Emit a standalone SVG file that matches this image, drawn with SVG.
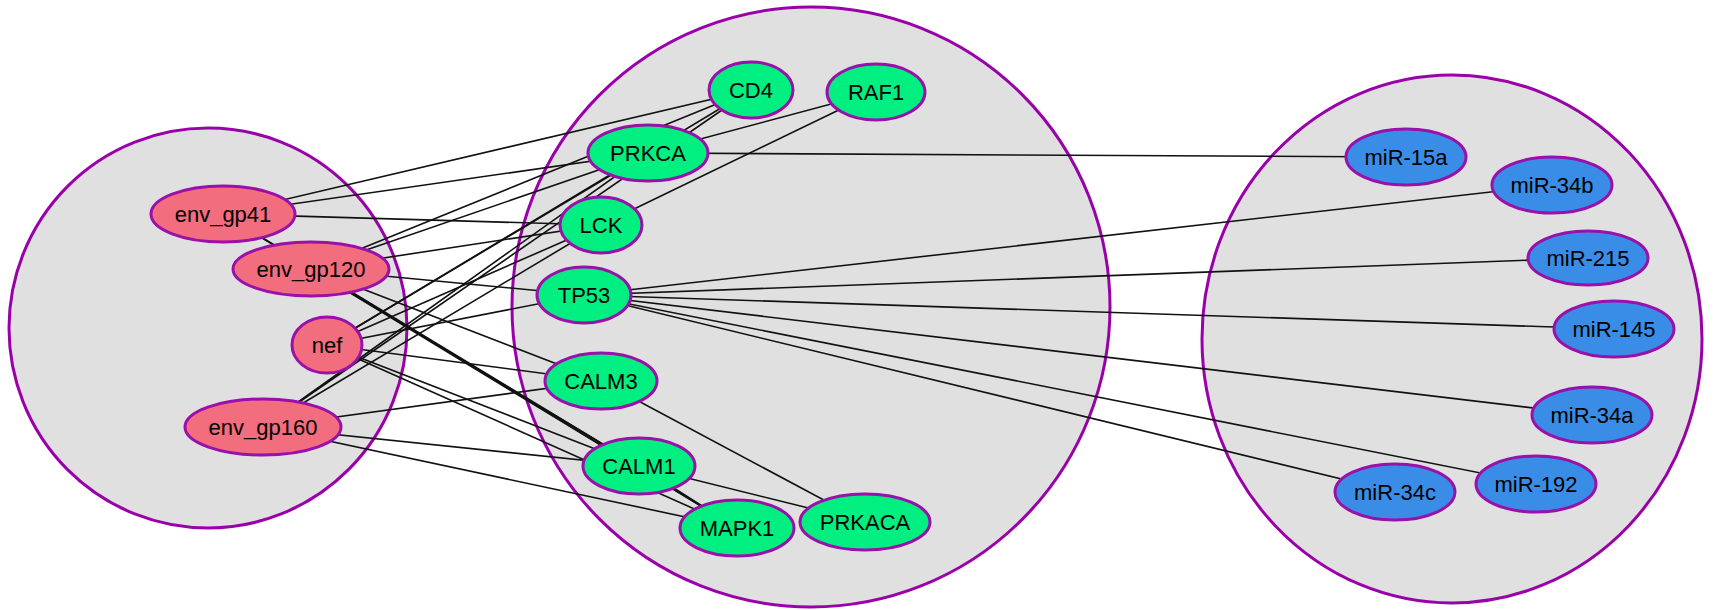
<svg xmlns="http://www.w3.org/2000/svg" width="1732" height="610" viewBox="0 0 1732 610">
  <style>
    .group { fill: #e0e0e0; stroke: #9a00aa; stroke-width: 3; }
    .node { stroke: #9a10aa; stroke-width: 3; }
    .viral { fill: #f26d7e; }
    .host { fill: #00ef80; }
    .mirna { fill: #3a8de6; }
    .label { font-family: "Liberation Sans", Arial, sans-serif; font-size: 22px; fill: #000; text-anchor: middle; }
    #edges line { stroke: #111; stroke-width: 1.6; }
  </style>

  <!-- compartments -->
  <g id="groups">
    <ellipse class="group" cx="208" cy="328" rx="199" ry="200"/>
    <ellipse class="group" cx="811" cy="307" rx="299" ry="300"/>
    <ellipse class="group" cx="1452" cy="339" rx="250" ry="264"/>
  </g>

  <!-- interactions -->
  <g id="edges">
    <!-- env_gp41 -->
    <line x1="223" y1="214" x2="751" y2="90"/>
    <line x1="223" y1="214" x2="648" y2="153"/>
    <line x1="223" y1="214" x2="601" y2="225"/>
    <line x1="223" y1="214" x2="639" y2="466"/>
    <line x1="223" y1="214" x2="737" y2="528"/>
    <!-- env_gp120 -->
    <line x1="311" y1="269" x2="751" y2="90"/>
    <line x1="311" y1="269" x2="648" y2="153"/>
    <line x1="311" y1="269" x2="601" y2="225"/>
    <line x1="311" y1="269" x2="584" y2="295"/>
    <line x1="311" y1="269" x2="601" y2="381"/>
    <line x1="311" y1="269" x2="639" y2="466"/>
    <line x1="311" y1="269" x2="737" y2="528"/>
    <!-- nef -->
    <line x1="327" y1="345" x2="751" y2="90"/>
    <line x1="327" y1="345" x2="648" y2="153"/>
    <line x1="327" y1="345" x2="601" y2="225"/>
    <line x1="327" y1="345" x2="584" y2="295"/>
    <line x1="327" y1="345" x2="601" y2="381"/>
    <line x1="327" y1="345" x2="639" y2="466"/>
    <line x1="327" y1="345" x2="737" y2="528"/>
    <!-- env_gp160 -->
    <line x1="263" y1="427" x2="751" y2="90"/>
    <line x1="263" y1="427" x2="648" y2="153"/>
    <line x1="263" y1="427" x2="601" y2="225"/>
    <line x1="263" y1="427" x2="601" y2="381"/>
    <line x1="263" y1="427" x2="639" y2="466"/>
    <line x1="263" y1="427" x2="737" y2="528"/>
    <!-- host-host -->
    <line x1="876" y1="92" x2="648" y2="153"/>
    <line x1="876" y1="92" x2="601" y2="225"/>
    <line x1="601" y1="381" x2="865" y2="522"/>
    <line x1="639" y1="466" x2="865" y2="522"/>
    <line x1="639" y1="466" x2="737" y2="528"/>
    <!-- host-miRNA -->
    <line x1="648" y1="153" x2="1406" y2="157"/>
    <line x1="584" y1="295" x2="1552" y2="185"/>
    <line x1="584" y1="295" x2="1588" y2="258"/>
    <line x1="584" y1="295" x2="1614" y2="329"/>
    <line x1="584" y1="295" x2="1592" y2="415"/>
    <line x1="584" y1="295" x2="1536" y2="484"/>
    <line x1="584" y1="295" x2="1395" y2="492"/>
  </g>

  <!-- viral proteins -->
  <g id="env_gp41"><ellipse class="node viral" cx="223" cy="214" rx="72" ry="28"/><text class="label" x="223" y="222">env_gp41</text></g>
  <g id="env_gp120"><ellipse class="node viral" cx="311" cy="269" rx="78" ry="27"/><text class="label" x="311" y="277">env_gp120</text></g>
  <g id="nef"><ellipse class="node viral" cx="327" cy="345" rx="35" ry="28"/><text class="label" x="327" y="353">nef</text></g>
  <g id="env_gp160"><ellipse class="node viral" cx="263" cy="427" rx="78" ry="28"/><text class="label" x="263" y="435">env_gp160</text></g>

  <!-- host proteins -->
  <g id="CD4"><ellipse class="node host" cx="751" cy="90" rx="42" ry="28"/><text class="label" x="751" y="98">CD4</text></g>
  <g id="RAF1"><ellipse class="node host" cx="876" cy="92" rx="49" ry="28"/><text class="label" x="876" y="100">RAF1</text></g>
  <g id="PRKCA"><ellipse class="node host" cx="648" cy="153" rx="60" ry="28"/><text class="label" x="648" y="161">PRKCA</text></g>
  <g id="LCK"><ellipse class="node host" cx="601" cy="225" rx="41" ry="28"/><text class="label" x="601" y="233">LCK</text></g>
  <g id="TP53"><ellipse class="node host" cx="584" cy="295" rx="47" ry="28"/><text class="label" x="584" y="303">TP53</text></g>
  <g id="CALM3"><ellipse class="node host" cx="601" cy="381" rx="56" ry="28"/><text class="label" x="601" y="389">CALM3</text></g>
  <g id="CALM1"><ellipse class="node host" cx="639" cy="466" rx="56" ry="28"/><text class="label" x="639" y="474">CALM1</text></g>
  <g id="MAPK1"><ellipse class="node host" cx="737" cy="528" rx="57" ry="28"/><text class="label" x="737" y="536">MAPK1</text></g>
  <g id="PRKACA"><ellipse class="node host" cx="865" cy="522" rx="65" ry="28"/><text class="label" x="865" y="530">PRKACA</text></g>

  <!-- microRNAs -->
  <g id="miR-15a"><ellipse class="node mirna" cx="1406" cy="157" rx="60" ry="28"/><text class="label" x="1406" y="165">miR-15a</text></g>
  <g id="miR-34b"><ellipse class="node mirna" cx="1552" cy="185" rx="60" ry="28"/><text class="label" x="1552" y="193">miR-34b</text></g>
  <g id="miR-215"><ellipse class="node mirna" cx="1588" cy="258" rx="60" ry="27"/><text class="label" x="1588" y="266">miR-215</text></g>
  <g id="miR-145"><ellipse class="node mirna" cx="1614" cy="329" rx="60" ry="28"/><text class="label" x="1614" y="337">miR-145</text></g>
  <g id="miR-34a"><ellipse class="node mirna" cx="1592" cy="415" rx="60" ry="28"/><text class="label" x="1592" y="423">miR-34a</text></g>
  <g id="miR-192"><ellipse class="node mirna" cx="1536" cy="484" rx="60" ry="28"/><text class="label" x="1536" y="492">miR-192</text></g>
  <g id="miR-34c"><ellipse class="node mirna" cx="1395" cy="492" rx="60" ry="28"/><text class="label" x="1395" y="500">miR-34c</text></g>
</svg>
